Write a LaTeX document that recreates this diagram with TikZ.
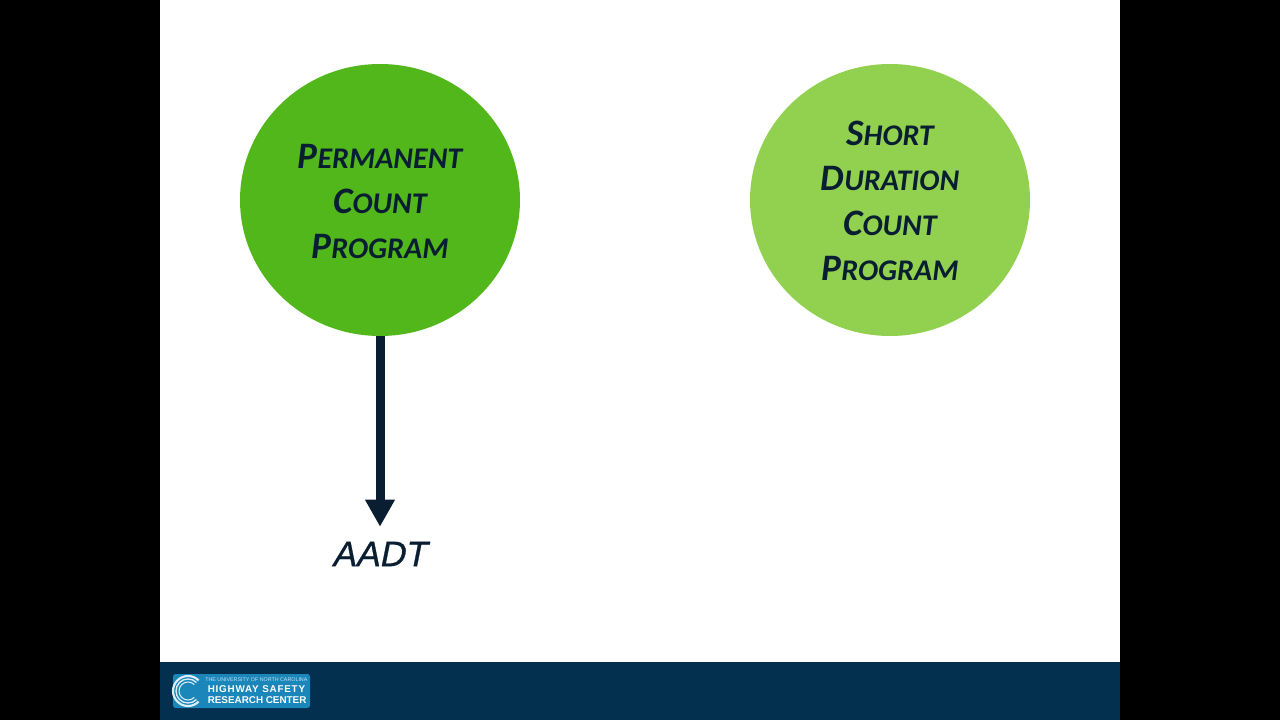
\documentclass[tikz,border=0pt]{standalone}
\usepackage{fontspec}
\usetikzlibrary{arrows.meta,shapes.geometric}
\setmainfont{Carlito}
\newfontfamily\arialf{Liberation Sans}
\newfontfamily\aadtf[FakeSlant=0.2,FakeBold=0.7]{Liberation Sans}
\newfontfamily\logoa[BoldFeatures={LetterSpace=8}]{Liberation Sans}
\definecolor{navy}{HTML}{0A1E32}
\definecolor{footer}{HTML}{03304F}
\definecolor{logoblue}{HTML}{1A86BA}
\definecolor{darkgreen}{HTML}{52B71B}
\definecolor{lightgreen}{HTML}{92D050}
\newcommand{\Cp}[2]{#1{\fontsize{22.5pt}{33.75pt}\selectfont #2}}
\tikzset{
  x=0.75pt,y=-0.75pt,
  circ/.style={ellipse,inner sep=0pt,minimum width=210pt,minimum height=204pt},
  lbl/.style={text=navy,font=\bfseries\itshape\fontsize{28pt}{33.75pt}\selectfont,align=center,inner sep=0pt},
  flow/.style={draw=navy,line width=6.75pt,-{Triangle[width=21pt,length=20.25pt]}},
  logotext/.style={text=white,inner sep=0pt,anchor=west}
}
\begin{document}
\begin{tikzpicture}
\useasboundingbox (0,0) rectangle (1280,720);
\fill[black] (0,0) rectangle (1280,720);
\fill[white] (160,0) rectangle (1120,662);
\fill[footer] (160,662) rectangle (1120,720);
\node[circ,fill=darkgreen] (perm) at (380,200) {};
\node[circ,fill=lightgreen] (short) at (890,200) {};
\node[lbl] (permtext) at (380,201) {\Cp{P}{ERMANENT}\\\Cp{C}{OUNT}\\\Cp{P}{ROGRAM}};
\node[lbl] (shorttext) at (890,201) {\Cp{S}{HORT}\\\Cp{D}{URATION}\\\Cp{C}{OUNT}\\\Cp{P}{ROGRAM}};
\node[inner sep=0pt,minimum height=40.5pt,text=navy,font=\aadtf\fontsize{26.5pt}{30pt}\selectfont] (aadt) at (379,554) {AADT};
\draw[flow] (perm.south) -- (perm.south |- aadt.north);
% logo
\fill[logoblue,rounded corners=2pt] (173,674) rectangle (310,708);
\foreach \r/\w in {15/1.6,12/1,9/0.8}{
  \draw[white!85!logoblue,line width=\w pt] (188,691) ++(45:\r) arc[start angle=45,end angle=315,radius=\r];
}
\node[logotext,font=\arialf\fontsize{4pt}{5pt}\selectfont,text=white!75!logoblue] (logo1) at (205,679.5) {THE UNIVERSITY OF NORTH CAROLINA};
\node[logotext,font=\logoa\bfseries\fontsize{7.4pt}{9pt}\selectfont] (logo2) at (207.5,689) {HIGHWAY SAFETY};
\node[logotext,font=\arialf\bfseries\fontsize{7.4pt}{9pt}\selectfont] (logo3) at (207.5,700) {RESEARCH CENTER};
\end{tikzpicture}
\end{document}
